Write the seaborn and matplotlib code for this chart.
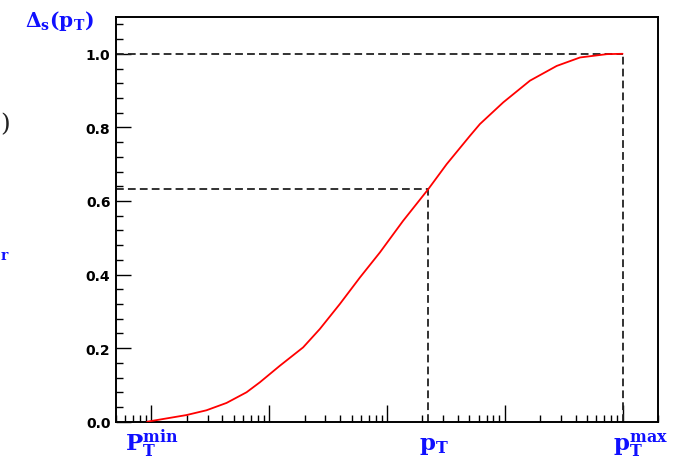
import numpy as np
import pandas as pd
import matplotlib
matplotlib.use("Agg")
import matplotlib.pyplot as plt
from matplotlib.ticker import LogLocator, MultipleLocator, FormatStrFormatter, NullFormatter
import seaborn as sns

# Sudakov-type factor Delta_s versus transverse momentum (log scale)
pt_values = [0.92, 1.98, 2.93, 4.34, 6.42, 8.32, 12.3, 19.4, 26.9, 39.8, 58.9,
             87.0, 137.0, 224.0, 321.0, 506.0, 615.0, 971.0, 1637.0, 2760.0,
             4356.0, 7350.0, 10000.0]
delta_values = [0.0, 0.018, 0.031, 0.051, 0.080, 0.107, 0.152, 0.202, 0.252,
                0.320, 0.392, 0.460, 0.546, 0.632, 0.700, 0.777, 0.809, 0.868,
                0.927, 0.967, 0.990, 0.999, 1.0]

pt_min = 1.0
pt_mark = 224.0
delta_mark = 0.632
pt_max = 10000.0

x_range = (0.5, 2.0e4)
y_range = (0.0, 1.1)

x_labels = [r"$\mathrm{P}_\mathrm{T}^\mathrm{min}$", r"$\mathrm{p}_\mathrm{T}$",
            r"$\mathrm{p}_\mathrm{T}^\mathrm{max}$"]
y_title = r"$\Delta_\mathrm{s}(\mathrm{p}_\mathrm{T})$"

df = pd.DataFrame({"pt": pt_values, "delta": delta_values})

sns.set_theme(style="white")
plt.rcParams["font.family"] = ["DejaVu Sans"]
plt.rcParams["mathtext.fontset"] = "custom"
plt.rcParams["mathtext.rm"] = "DejaVu Serif:bold"
plt.rcParams["mathtext.it"] = "DejaVu Serif:bold"
plt.rcParams["mathtext.bf"] = "DejaVu Serif:bold"
plt.rcParams["mathtext.sf"] = "DejaVu Sans:bold"

W, H = 681, 464
fig = plt.figure(figsize=(W / 100, H / 100), dpi=100)
ax = fig.add_axes([116 / W, (H - 422.7) / H, (658 - 116) / W, (422.7 - 18) / H])

blue = "#1010ff"
dash_kw = dict(color="#222222", lw=1.3, dashes=(4.3, 2.3), zorder=2)

# guide lines
ax.plot([x_range[0], pt_max], [1.0, 1.0], **dash_kw)
ax.plot([pt_max, pt_max], [0.0, 1.0], **dash_kw)
ax.plot([x_range[0], pt_mark], [delta_mark, delta_mark], **dash_kw)
ax.plot([pt_mark, pt_mark], [0.0, delta_mark], **dash_kw)

sns.lineplot(data=df, x="pt", y="delta", ax=ax, color="#ff0000", lw=1.3,
             zorder=3, legend=False)

ax.set_xscale("log")
ax.set_xlim(*x_range)
ax.set_ylim(*y_range)
ax.set_xlabel("")
ax.set_ylabel("")

ax.xaxis.set_major_locator(LogLocator(base=10, numticks=20))
ax.xaxis.set_minor_locator(LogLocator(base=10, subs=np.arange(2, 10), numticks=50))
ax.xaxis.set_major_formatter(NullFormatter())
ax.xaxis.set_minor_formatter(NullFormatter())

ax.yaxis.set_major_locator(MultipleLocator(0.2))
ax.yaxis.set_minor_locator(MultipleLocator(0.04))
ax.yaxis.set_major_formatter(FormatStrFormatter("%.1f"))

ax.tick_params(axis="x", which="major", direction="in", length=12.6, width=1.0,
               bottom=True, top=False, color="black")
ax.tick_params(axis="x", which="minor", direction="in", length=4.7, width=1.0,
               bottom=True, top=False, color="black")
ax.tick_params(axis="y", which="major", direction="in", length=10.5, width=1.0,
               left=True, right=False, color="black", pad=4.0,
               labelsize=10, labelcolor="black")
ax.tick_params(axis="y", which="minor", direction="in", length=5.0, width=1.0,
               left=True, right=False, color="black")
for lab in ax.get_yticklabels():
    lab.set_fontweight("bold")

for side in ["left", "bottom", "top", "right"]:
    ax.spines[side].set_visible(True)
    ax.spines[side].set_color("black")
    ax.spines[side].set_linewidth(1.4)

# x-axis position labels
label_pos = [pt_min, pt_mark, pt_max]
label_dx = [-26.7, -9.3, -10.0]
label_dy = [-28.3, -27.5, -27.5]
for xv, txt, dx, dy in zip(label_pos, x_labels, label_dx, label_dy):
    ax.annotate(txt, xy=(xv, 0), xycoords=("data", "axes fraction"),
                xytext=(dx * 0.72, dy * 0.72), textcoords="offset points",
                ha="left", va="baseline", fontsize=16.5, color=blue,
                annotation_clip=False)

fig.text(25 / W, 1 - 26.7 / H, y_title, fontsize=14.5, color=blue,
         ha="left", va="baseline")

# fragments of neighbouring text at the left margin
fig.text(0.5 / W, 1 - 125 / H, ")", fontsize=18, color="#222222",
         family="DejaVu Serif", ha="left", va="center")
fig.text(0.5 / W, 1 - 249 / H, "r", fontsize=10, color=blue,
         family="DejaVu Serif", fontweight="bold", ha="left", va="top")

fig.savefig("out.png", dpi=100)
